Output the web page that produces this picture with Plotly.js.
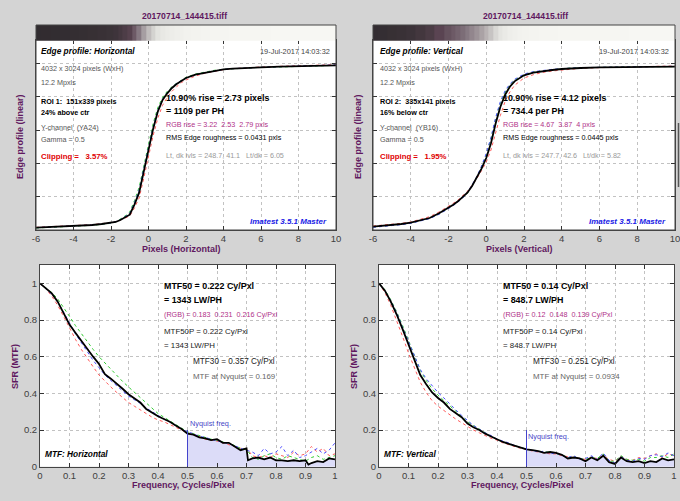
<!DOCTYPE html>
<html><head><meta charset="utf-8">
<script src="https://cdn.plot.ly/plotly-3.0.1.min.js"></script>
<style>html,body{margin:0;padding:0;background:#d4d4d4;}#c{width:680px;height:501px;}</style>
</head><body><div id="c"></div>
<script>
// ---------- DATA ----------
const edgeX = [-6,-5.5,-5,-4.5,-4,-3.5,-3,-2.5,-2,-1.75,-1.5,-1.25,-1,-0.75,-0.5,-0.25,0,0.25,0.5,0.75,1,1.25,1.5,1.75,2,2.5,3,3.5,4,4.5,5,6,7,8,9,10];
const edgeH_Y = [3.5,4,4.5,5,5.5,6.5,7.5,9,10.5,12,15,19,23,38,56,88,120,152,178,195,205,213,219,224,228,233,236,239,241,242,243,244,245,245.5,246,247];
const edgeH_R = [4,4.5,5,5.5,6,7,8,9.5,11,12.5,15,18,21,33,48,78,110,142,168,187,199,208,215,221,225,231,235,238,240.5,242,243,244.5,245.5,246,246.5,248];
const edgeH_G = [3,3.5,4,4.5,5,6,7,8.5,10,12,16,21,27,44,64,97,128,160,184,199,208,215,220,225,229,234,237,239.5,241,242,243,244,244.5,245,246,247];
const edgeH_B = [3.5,4,4.5,5,5.5,6.5,7.5,9,10.5,12.5,15.5,20,25,41,60,92,124,155,180,196,206,214,220,224,228,233,236,239,241,242,243,244,245,245.5,246,247.5];
const edgeV_Y = [5,6,7.5,9,11,14,18,25,33,38,43,49,56,66,78,92,108,130,160,185,203,215,223,228,232,236,238.5,240,241.5,242.5,243,244,244.5,245,245,245];
const edgeV_R = [6,7,8.5,10,12,15.5,20,27,35,40,45,51,58,67,77,89,102,120,146,172,193,207,217,223,228,233,236.5,238.5,240,241.5,242.5,243.5,244.5,245,245.5,246];
const edgeV_G = [4.5,5.5,7,8.5,10.5,13.5,17.5,24,32,37,42,48,55,66,79,95,113,137,167,191,207,218,225,229,233,237,239,240.5,242,243,243.5,244,244.5,245,245,245];
const edgeV_B = [4,5,6.5,8,10,13,17,23.5,31.5,36.5,42,48,56,67,80,96,115,139,169,193,209,219,226,230,234,237.5,239.5,241,242,243,243.5,244,244.5,245,245,245.5];

const mtfFreqH = [0,.02,.04,.06,.08,.10,.12,.14,.16,.18,.20,.22,.24,.26,.28,.30,.32,.34,.36,.38,.40,.42,.44,.46,.48,.50,.52,.54,.56,.58,.60,.62,.64,.66,.68,.70,.705,.72,.74,.76,.78,.80,.82,.84,.86,.88,.90,.91,.92,.94,.96,.98,1.0];
const mtfH_Y = [1,.975,.945,.9,.84,.775,.73,.685,.645,.6,.56,.505,.48,.455,.425,.395,.37,.35,.315,.295,.275,.26,.245,.225,.205,.18,.175,.16,.155,.145,.15,.13,.13,.11,.09,.10,.035,.045,.05,.04,.05,.035,.035,.03,.035,.03,.035,.012,.02,.03,.025,.045,.04];
const mtfFreq = [0,0.02,0.04,0.06,0.08,0.1,0.12,0.14,0.16,0.18,0.2,0.22,0.24,0.26,0.28,0.3,0.32,0.34,0.36,0.38,0.4,0.42,0.44,0.46,0.48,0.5,0.52,0.54,0.56,0.58,0.6,0.62,0.64,0.66,0.68,0.7,0.72,0.74,0.76,0.78,0.8,0.82,0.84,0.86,0.88,0.9,0.92,0.94,0.96,0.98,1];
const mtfH_R = [1,.97,.93,.88,.82,.755,.695,.64,.59,.545,.5,.465,.435,.405,.375,.35,.33,.31,.29,.27,.255,.245,.23,.215,.2,.185,.175,.165,.15,.145,.14,.13,.12,.11,.1,.1,.06,.05,.06,.05,.07,.06,.05,.08,.06,.07,.11,.08,.1,.06,.07];
const mtfH_G = [1,.975,.95,.915,.87,.82,.77,.725,.68,.64,.6,.565,.53,.5,.465,.435,.405,.375,.345,.315,.29,.27,.25,.23,.21,.19,.18,.17,.16,.15,.145,.135,.13,.115,.1,.095,.05,.04,.06,.07,.05,.04,.06,.05,.04,.03,.05,.06,.04,.05,.06];
const mtfH_B = [1,.97,.94,.9,.845,.785,.725,.675,.625,.58,.54,.5,.47,.44,.41,.385,.365,.345,.32,.3,.28,.26,.245,.225,.205,.19,.18,.165,.16,.15,.14,.135,.125,.115,.1,.09,.08,.06,.1,.07,.08,.11,.06,.09,.05,.06,.08,.1,.07,.09,.13];
const mtfV_Y = [1,.96,.9,.83,.75,.665,.58,.5,.45,.405,.375,.35,.315,.29,.27,.235,.215,.2,.18,.165,.15,.135,.125,.115,.105,.095,.09,.085,.075,.08,.075,.065,.045,.05,.045,.03,.05,.035,.06,.025,.015,.05,.03,.025,.03,.02,.03,.025,.045,.035,.04];
const mtfV_R = [1,.95,.88,.8,.71,.62,.535,.46,.405,.36,.33,.305,.28,.26,.24,.22,.2,.185,.17,.155,.145,.13,.12,.11,.1,.095,.085,.08,.075,.07,.07,.06,.055,.05,.045,.04,.05,.045,.06,.04,.03,.055,.04,.035,.05,.045,.06,.07,.05,.07,.06];
const mtfV_G = [1,.965,.91,.845,.77,.685,.6,.525,.47,.425,.39,.36,.33,.3,.275,.245,.225,.205,.185,.165,.15,.135,.125,.115,.105,.095,.09,.085,.08,.08,.07,.065,.05,.055,.045,.04,.05,.045,.07,.03,.03,.06,.04,.035,.04,.03,.05,.05,.06,.05,.07];
const mtfV_B = [1,.96,.905,.84,.76,.68,.6,.53,.48,.44,.405,.375,.34,.31,.28,.25,.225,.205,.185,.17,.15,.14,.13,.115,.105,.095,.09,.08,.085,.07,.075,.06,.05,.06,.04,.045,.06,.04,.075,.035,.02,.055,.035,.03,.045,.04,.06,.065,.055,.075,.06];

const edgeTicks = [-6,-4,-2,0,2,4,6,8,10];
const edgeYTicks = [0,50,100,150,200,250];
const mtfXTicks = [0,0.1,0.2,0.3,0.4,0.5,0.6,0.7,0.8,0.9,1];
const mtfYTicks = [0,0.2,0.4,0.6,0.8,1];
const nyquist = 0.5;

// ---------- STYLE ----------
const W = 680, H = 501;
const F = 'Liberation Sans, Arial, sans-serif';
const PURPLE = '#601860';
const px = v => v / W, py = v => 1 - v / H;
const RC = '#ff5a5a', GC = '#33cc33', BC = '#5050ff';

function dotted(x, y, c, xa, ya) {
  return {x, y, type:'scatter', mode:'lines', line:{color:c, width:1, dash:'dot'}, xaxis:xa, yaxis:ya, hoverinfo:'skip'};
}
function solid(x, y, xa, ya) {
  return {x, y, type:'scatter', mode:'lines', line:{color:'#000', width:1.8}, xaxis:xa, yaxis:ya, hoverinfo:'skip'};
}
function strip(z, xa, ya) {
  return {type:'heatmap', x:edgeX, y:[0], z:[z], zmin:0, zmax:250, showscale:false, xaxis:xa, yaxis:ya, hoverinfo:'skip',
    colorscale:[[0,'#2c282c'],[0.04,'#3a3237'],[0.1,'#5a4452'],[0.24,'#8c8088'],[0.45,'#bdb8b8'],[0.7,'#e2e2de'],[1,'#f8f8f4']]};
}
function fillTrace(fx, fy, xa, ya) {
  const xs = [], ys = [];
  fx.forEach((f, i) => { if (f >= nyquist) { xs.push(f); ys.push(fy[i]); } });
  return {x:xs, y:ys, type:'scatter', mode:'lines', fill:'tozeroy', fillcolor:'#dcdcf8', line:{width:0, color:'#dcdcf8'}, xaxis:xa, yaxis:ya, hoverinfo:'skip'};
}

const traces = [
  strip(edgeH_Y, 'x2', 'y2'),
  strip(edgeV_Y, 'x4', 'y4'),
  dotted(edgeX, edgeH_R, RC, 'x', 'y'), dotted(edgeX, edgeH_G, GC, 'x', 'y'), dotted(edgeX, edgeH_B, BC, 'x', 'y'),
  solid(edgeX, edgeH_Y, 'x', 'y'),
  dotted(edgeX, edgeV_R, RC, 'x3', 'y3'), dotted(edgeX, edgeV_G, GC, 'x3', 'y3'), dotted(edgeX, edgeV_B, BC, 'x3', 'y3'),
  solid(edgeX, edgeV_Y, 'x3', 'y3'),
  fillTrace(mtfFreqH, mtfH_Y, 'x5', 'y5'),
  dotted(mtfFreq, mtfH_R, RC, 'x5', 'y5'), dotted(mtfFreq, mtfH_G, GC, 'x5', 'y5'), dotted(mtfFreq, mtfH_B, BC, 'x5', 'y5'),
  solid(mtfFreqH, mtfH_Y, 'x5', 'y5'),
  fillTrace(mtfFreq, mtfV_Y, 'x6', 'y6'),
  dotted(mtfFreq, mtfV_R, RC, 'x6', 'y6'), dotted(mtfFreq, mtfV_G, GC, 'x6', 'y6'), dotted(mtfFreq, mtfV_B, BC, 'x6', 'y6'),
  solid(mtfFreq, mtfV_Y, 'x6', 'y6')
];

const axBase = {ticks:'inside', ticklen:4, tickcolor:'#333', showline:true, linecolor:'#444', linewidth:1, mirror:'ticks',
  showgrid:true, gridcolor:'#c2c2c2', griddash:'dot', gridwidth:1, zeroline:false, fixedrange:true, ticklabeloverflow:'allow',
  tickfont:{family:F, size:9.5, color:'#404040'}};
function ax(o) { return Object.assign({}, axBase, o); }
const hidden = o => Object.assign({visible:false, fixedrange:true}, o);

const dTopY = [py(230), py(40)], dStripY = [py(40.8), py(25)], dBotY = [py(466.7), py(265)];
const dTL = [px(36), px(336)], dTR = [px(373), px(675)], dBL = [px(40), px(335)], dBR = [px(379), px(674)];

const edgeX_ax = d => ax({domain:d, range:[-6,10], tickvals:edgeTicks, ticktext:edgeTicks.map(String)});
const edgeY_ax = (d, a) => ax({domain:dTopY, anchor:a, range:[0,285], tickvals:edgeYTicks, showticklabels:false});
const mtfX_ax = d => ax({domain:d, range:[0,1], tickvals:mtfXTicks, ticktext:mtfXTicks.map(String)});
const mtfY_ax = a => ax({domain:dBotY, anchor:a, range:[0,1.1], tickvals:mtfYTicks, ticktext:mtfYTicks.map(String)});

function A(t, x, y, o) {
  o = o || {};
  return Object.assign({text:t, x:px(x), y:py(y), xref:'paper', yref:'paper', showarrow:false, xanchor:'left', yanchor:'middle',
    borderpad:0, borderwidth:0}, o, {font:Object.assign({family:F, size:7.2, color:'#555'}, o.font || {})});
}
const BLK = {color:'#000'};
const ann = [];
// titles
ann.push(A('<b>20170714_144415.tiff</b>', 185, 16, {xanchor:'center', font:{size:8.6, color:PURPLE}}));
ann.push(A('<b>20170714_144415.tiff</b>', 525, 16, {xanchor:'center', font:{size:8.6, color:PURPLE}}));
// axis titles
ann.push(A('<b>Pixels (Horizontal)</b>', 181, 249, {xanchor:'center', font:{size:9, color:PURPLE}}));
ann.push(A('<b>Pixels (Vertical)</b>', 519, 249, {xanchor:'center', font:{size:9, color:PURPLE}}));
ann.push(A('<b>Edge profile (linear)</b>', 20, 137, {xanchor:'center', textangle:-90, font:{size:9, color:PURPLE}}));
ann.push(A('<b>Edge profile (linear)</b>', 358, 137, {xanchor:'center', textangle:-90, font:{size:9, color:PURPLE}}));
ann.push(A('<b>Frequency, Cycles/Pixel</b>', 183, 485, {xanchor:'center', font:{size:9, color:PURPLE}}));
ann.push(A('<b>Frequency, Cycles/Pixel</b>', 522, 485, {xanchor:'center', font:{size:9, color:PURPLE}}));
ann.push(A('<b>SFR (MTF)</b>', 15, 367, {xanchor:'center', textangle:-90, font:{size:9, color:PURPLE}}));
ann.push(A('<b>SFR (MTF)</b>', 354, 367, {xanchor:'center', textangle:-90, font:{size:9, color:PURPLE}}));

// top panels
function edgeTexts(ox, rx, dx, name, roi, pos, chan, clip, rise, ph, rgb, rms, lvls) {
  ann.push(A('<b><i>Edge profile: ' + name + '</i></b>', ox, 51.5, {font:{size:8.3, color:'#000'}}));
  ann.push(A('19-Jul-2017 14:03:32', dx, 51.5, {xanchor:'right', font:{size:7.4, color:'#444'}}));
  ann.push(A('4032 x 3024 pixels (WxH)', ox, 69, {}));
  ann.push(A('12.2 Mpxls', ox, 83, {}));
  ann.push(A('<b>' + roi + '</b>', ox, 101, {font:BLK}));
  ann.push(A('<b>' + pos + '</b>', ox, 112.5, {font:BLK}));
  ann.push(A(chan, ox, 128, {}));
  ann.push(A('Gamma = 0.5', ox, 139.5, {}));
  ann.push(A('<b>Clipping =\u00a0\u00a0 ' + clip + '</b>', ox, 156, {font:{size:7.8, color:'#e00000'}}));
  ann.push(A('<b>10.90% rise = ' + rise + ' pixels</b>', rx, 98, {font:{size:8.9, color:'#000'}}));
  ann.push(A('<b>= ' + ph + ' per PH</b>', rx, 111, {font:{size:8.9, color:'#000'}}));
  ann.push(A(rgb, rx, 124.5, {font:{color:'#b03088'}}));
  ann.push(A(rms, rx, 138, {font:{color:'#000'}}));
  ann.push(A(lvls, rx, 155.5, {font:{color:'#999'}}));
}
edgeTexts(41, 166, 330, 'Horizontal', 'ROI 1:\u00a0 151x339 pixels', '24% above ctr', 'Y-channel\u00a0 (YA24)', '3.57%', '2.73', '1109',
  'RGB rise = 3.22\u00a0 2.53\u00a0 2.79 pxls', 'RMS Edge roughness = 0.0431 pxls', 'Lt, dk lvls = 248.7, 41.1\u00a0\u00a0 Lt/dk = 6.05');
edgeTexts(380, 503, 669, 'Vertical', 'ROI 2:\u00a0 335x141 pixels', '16% below ctr', 'Y-channel\u00a0 (YB16)', '1.95%', '4.12', '734.4',
  'RGB rise = 4.67\u00a0 3.87\u00a0 4 pxls', 'RMS Edge roughness = 0.0445 pxls', 'Lt, dk lvls = 247.7, 42.6\u00a0\u00a0 Lt/dk = 5.82');
ann.push(A('<b><i>Imatest 3.5.1 Master</i></b>', 327, 221, {xanchor:'right', font:{size:8, color:'#1a1ae6'}}));
ann.push(A('<b><i>Imatest 3.5.1 Master</i></b>', 666, 221, {xanchor:'right', font:{size:8, color:'#1a1ae6'}}));

// bottom panels
function mtfTexts(ox, ox2, name, m50, lw, rgb, m30, nyq, lx, nyy, nx) {
  ann.push(A('<b>MTF50 = ' + m50 + ' Cy/Pxl</b>', ox, 286, {font:{size:8.9, color:'#000'}}));
  ann.push(A('<b>= ' + lw + ' LW/PH</b>', ox, 300, {font:{size:8.9, color:'#000'}}));
  ann.push(A(rgb, ox, 314, {font:{color:'#b03088'}}));
  ann.push(A('MTF50P = ' + m50 + ' Cy/Pxl', ox, 331, {font:{size:7.9, color:'#222'}}));
  ann.push(A('= ' + lw + ' LW/PH', ox, 345, {font:{size:7.9, color:'#222'}}));
  ann.push(A('MTF30 = ' + m30 + ' Cy/Pxl', ox2, 361, {font:{size:8.2, color:'#222'}}));
  ann.push(A('MTF at Nyquist = ' + nyq, ox2, 376, {font:{size:7.9, color:'#666'}}));
  ann.push(A('<b><i>MTF: ' + name + '</i></b>', lx, 454, {font:{size:8.3, color:'#000'}}));
  ann.push(A('Nyquist freq.', nx, nyy, {font:{size:7.3, color:'#4848c8'}}));
}
mtfTexts(164, 193, 'Horizontal', '0.222', '1343', '(RGB) = 0.183\u00a0 0.231\u00a0 0.216 Cy/Pxl', '0.357', '0.169', 45, 423.5, 190);
mtfTexts(503, 533, 'Vertical', '0.14', '848.7', '(RGB) = 0.12\u00a0 0.148\u00a0 0.139 Cy/Pxl', '0.251', '0.0934', 384, 436, 528);

const shapes = [
  {type:'rect', xref:'paper', yref:'paper', x0:px(36), x1:px(336), y0:py(230), y1:py(25), line:{color:'#444', width:1}, layer:'above'},
  {type:'rect', xref:'paper', yref:'paper', x0:px(373), x1:px(675), y0:py(230), y1:py(25), line:{color:'#444', width:1}, layer:'above'},
  {type:'line', xref:'x5', yref:'y5', x0:nyquist, x1:nyquist, y0:0, y1:0.2, line:{color:'#4444cc', width:1}},
  {type:'line', xref:'x6', yref:'y6', x0:nyquist, x1:nyquist, y0:0, y1:0.2, line:{color:'#4444cc', width:1}},
  {type:'line', xref:'paper', yref:'paper', x0:px(678.5), x1:px(678.5), y0:py(123), y1:py(187), line:{color:'#555', width:1.5}}
];

const layout = {
  width:W, height:H, margin:{l:0, r:0, t:0, b:0}, paper_bgcolor:'#d4d4d4', plot_bgcolor:'#ffffff', showlegend:false,
  font:{family:F},
  xaxis: Object.assign(edgeX_ax(dTL), {anchor:'y'}),
  yaxis: edgeY_ax(dTopY, 'x'),
  xaxis2: hidden({domain:dTL, range:[-6,10], anchor:'y2'}),
  yaxis2: hidden({domain:dStripY, range:[-0.5,0.5], anchor:'x2'}),
  xaxis3: Object.assign(edgeX_ax(dTR), {anchor:'y3'}),
  yaxis3: edgeY_ax(dTopY, 'x3'),
  xaxis4: hidden({domain:dTR, range:[-6,10], anchor:'y4'}),
  yaxis4: hidden({domain:dStripY, range:[-0.5,0.5], anchor:'x4'}),
  xaxis5: Object.assign(mtfX_ax(dBL), {anchor:'y5'}),
  yaxis5: mtfY_ax('x5'),
  xaxis6: Object.assign(mtfX_ax(dBR), {anchor:'y6'}),
  yaxis6: mtfY_ax('x6'),
  annotations: ann,
  shapes: shapes
};
Plotly.newPlot('c', traces, layout, {displayModeBar:false, staticPlot:true});
</script>
</body></html>
